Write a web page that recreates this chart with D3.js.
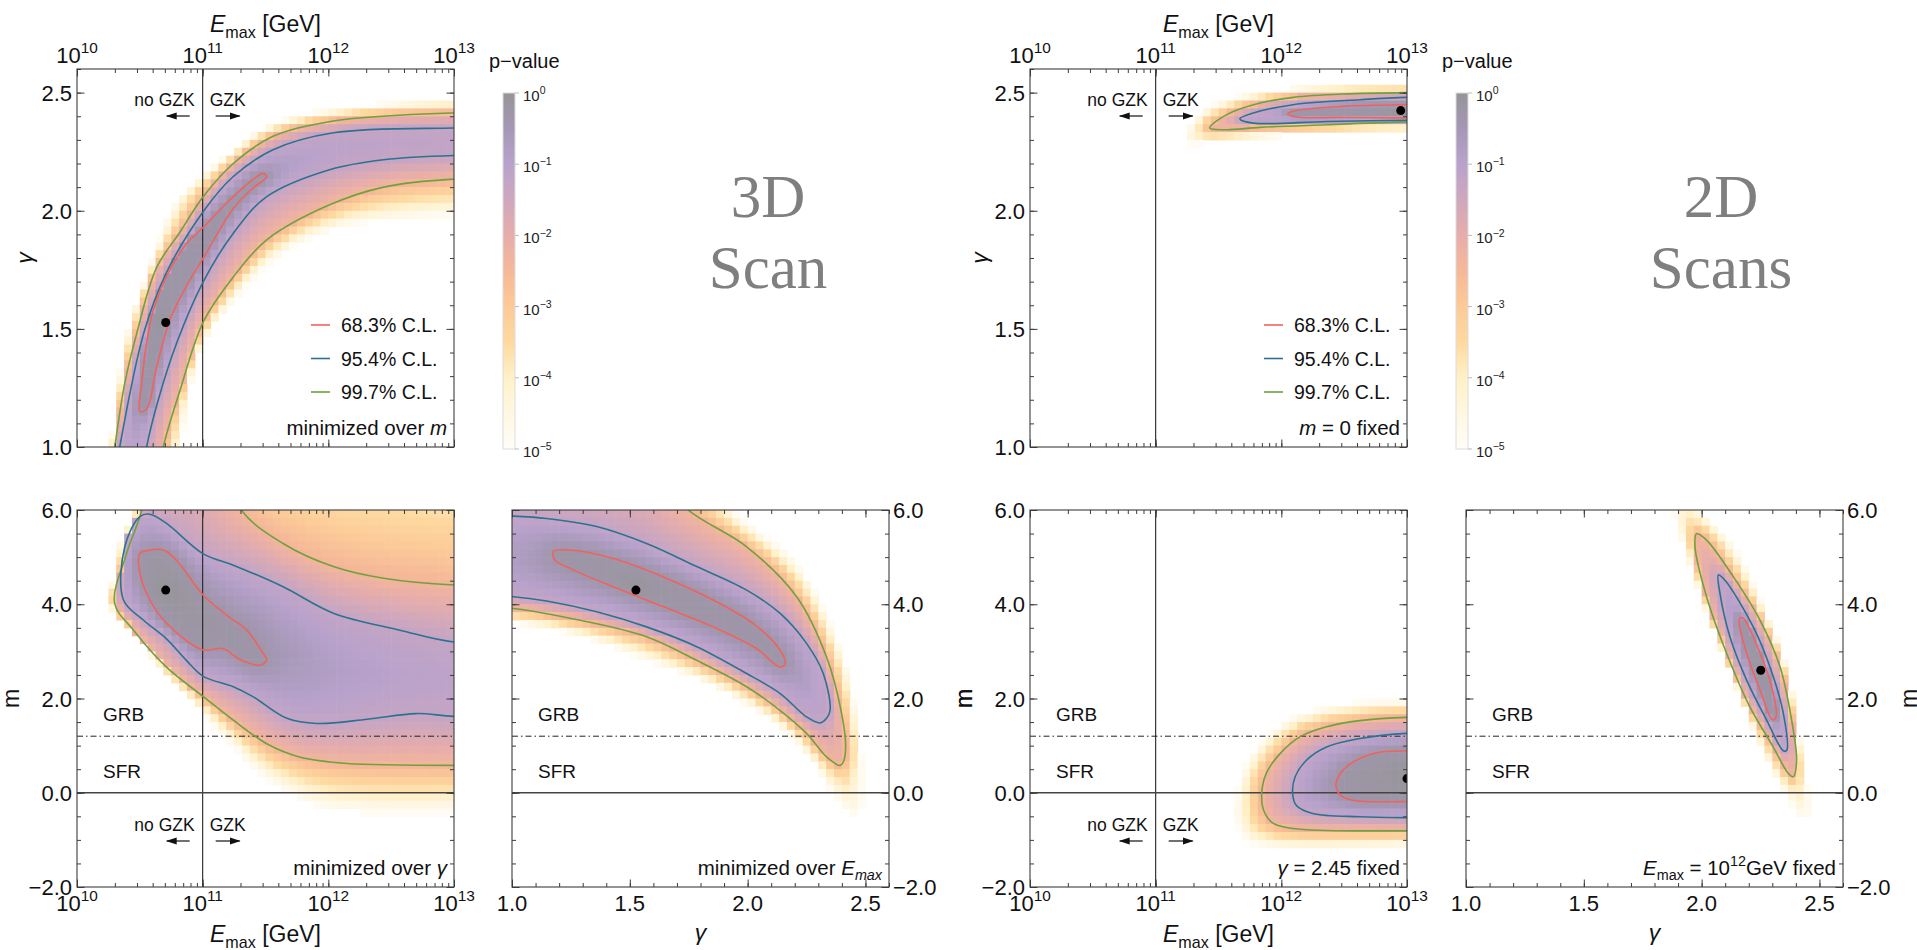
<!DOCTYPE html>
<html>
<head>
<meta charset="utf-8">
<script src="https://cdn.jsdelivr.net/npm/d3@7"></script>
<style>
  body { margin: 0; background: #fff; }
  svg { display: block; font-family: "Liberation Sans", Arial, Helvetica, sans-serif; }
</style>
</head>
<body>
<svg id="chart" width="1917" height="950"></svg>
<script>
// ---- axis ranges -------------------------------------------------------
const eDomain = [1e10, 1e13];          // Emax [GeV]
const gDomain = [1.0, 2.6];            // spectral index gamma
const mDomain = [-2.0, 6.0];           // source evolution m

const eMajor = [1e10, 1e11, 1e12, 1e13];
const gMajor = [1.0, 1.5, 2.0, 2.5];
const mMajor = [-2, 0, 2, 4, 6];

// reference lines
const gzkE = 1e11;
const mGRB = 1.2;
const mSFR = 0.0;

// confidence levels
const clNames = ['68.3% C.L.', '95.4% C.L.', '99.7% C.L.'];
const clColors = ['#f0625d', '#2c7192', '#72a03b'];
// log10 p-value of the map along each contour (68.3, 95.4, 99.7) and at the outer fade
const shadeAtContour = [-0.3, -1.25, -2.4];
const shadeEdge = -5;

// p-value colour bar, log10(p) from 0 down to -5 in steps of 0.5
const pvTicks = [0, -1, -2, -3, -4, -5];
const pvColors = ['#959597', '#a597b5', '#b8a2cc', '#cfa7bd', '#e6adab', '#f5b898',
                  '#fcca98', '#fed9a0', '#fff0c8', '#fff7e2', '#fffdf8'];

// ---- 3D scan: gamma vs log10(Emax), minimized over m ----------------------
const scan3_gE_best = [10.706, 1.527];
const scan3_gE_c1 = [[10.50,1.15],[10.515,1.27],[10.554,1.44],[10.607,1.58],[10.71,1.72],[10.87,1.86],
  [11.005,1.93],[11.244,2.06],[11.48,2.157],[11.51,2.145],[11.40,2.096],[11.244,2.01],[11.005,1.80],
  [10.87,1.68],[10.74,1.54],[10.634,1.34],[10.554,1.16]];
const scan3_gE_c2 = [[10.28,0.8],[10.34,1.0],[10.53,1.48],[10.71,1.736],[11.005,1.997],[11.244,2.145],
  [11.56,2.258],[12.04,2.33],[13.0,2.35],[13.6,2.35],[13.6,2.234],[13.0,2.234],[12.44,2.216],[12.01,2.174],
  [11.51,2.06],[11.244,1.905],[11.005,1.70],[10.793,1.44],[10.647,1.2],[10.554,1.0],[10.50,0.8]];
const scan3_gE_c3 = [[10.24,0.8],[10.30,1.0],[10.38,1.27],[10.475,1.48],[10.634,1.76],[10.82,1.91],
  [11.005,2.06],[11.244,2.20],[11.56,2.315],[12.04,2.38],[13.0,2.414],[13.6,2.414],[13.6,2.134],
  [13.0,2.134],[12.44,2.10],[12.01,2.025],[11.51,1.877],[11.244,1.72],[11.005,1.53],[10.82,1.24],
  [10.687,1.0],[10.63,0.8]];
const scan3_gE_edge = [[10.20,0.8],[10.263,1.0],[10.395,1.48],[10.58,1.764],[10.793,2.047],[11.11,2.20],
  [11.51,2.357],[12.04,2.43],[13.0,2.47],[13.6,2.47],[13.6,1.976],[13.0,1.976],[12.57,1.96],[12.04,1.92],
  [11.64,1.82],[11.244,1.62],[10.98,1.41],[10.82,1.0],[10.76,0.8]];

// ---- 3D scan: m vs log10(Emax), minimized over gamma ------------------------
const scan3_mE_best = [10.706, 4.30];
const scan3_mE_c1 = [[10.50,5.08],[10.58,5.15],[10.69,5.15],[10.79,4.94],[11.005,4.19],[11.19,3.77],
  [11.35,3.45],[11.48,2.96],[11.51,2.82],[11.46,2.71],[11.30,2.82],[11.16,3.06],[11.005,3.03],
  [10.77,3.45],[10.61,3.95],[10.50,4.66]];
const scan3_mE_c2 = [[10.37,4.09],[10.38,5.22],[10.50,5.86],[10.58,5.91],[10.71,5.72],[11.005,5.07],
  [11.244,4.83],[11.64,4.37],[12.04,3.81],[12.57,3.45],[13.0,3.20],[13.6,3.20],[13.6,1.62],[13.0,1.62],
  [12.70,1.68],[12.31,1.56],[11.91,1.47],[11.67,1.58],[11.40,2.04],[11.244,2.25],[11.005,2.47],
  [10.87,2.81],[10.71,3.27],[10.53,3.66]];
const scan3_mE_c3 = [[10.56,7.0],[10.515,6.0],[10.395,5.08],[10.30,4.02],[10.45,3.45],[10.71,2.67],
  [11.005,2.04],[11.244,1.54],[11.51,1.04],[11.77,0.76],[12.15,0.62],[12.57,0.59],[13.0,0.58],
  [13.6,0.58],[13.6,4.41],[13.0,4.41],[12.44,4.55],[12.04,4.80],[11.64,5.29],[11.31,6.0],[11.2,7.0]];
const scan3_mE_edge = [[10.5,7.0],[10.45,6.0],[10.34,5.36],[10.29,4.58],[10.263,4.02],[10.45,3.38],
  [10.85,2.11],[11.244,0.97],[11.51,0.27],[11.91,-0.30],[12.31,-0.44],[13.0,-0.44],[13.6,-0.44],[13.6,7.0]];

// ---- 3D scan: m vs gamma, minimized over Emax -------------------------------
const scan3_mg_best = [1.526, 4.30];
const scan3_mg_c1 = [[1.175,5.12],[1.246,5.15],[1.43,4.97],[1.642,4.58],[1.854,4.09],[2.024,3.59],
  [2.137,3.03],[2.159,2.74],[2.137,2.67],[2.038,3.06],[1.854,3.52],[1.642,3.95],[1.43,4.37],
  [1.26,4.73],[1.182,4.94]];
const scan3_mg_c2 = [[0.7,5.9],[1.006,5.87],[1.147,5.82],[1.359,5.65],[1.571,5.29],[1.784,4.80],
  [1.996,4.30],[2.137,3.81],[2.25,3.17],[2.321,2.53],[2.35,1.75],[2.335,1.58],[2.307,1.48],[2.25,1.61],
  [2.137,2.11],[1.996,2.53],[1.784,3.10],[1.571,3.52],[1.359,3.84],[1.147,4.07],[1.006,4.16],[0.7,4.2]];
const scan3_mg_c3 = [[0.7,4.0],[1.006,3.91],[1.289,3.66],[1.571,3.31],[1.784,2.81],[1.996,2.25],
  [2.137,1.75],[2.25,1.26],[2.335,0.76],[2.392,0.58],[2.406,0.65],[2.416,0.97],[2.399,1.68],
  [2.335,2.88],[2.208,4.16],[1.996,5.22],[1.748,6.0],[1.65,6.6],[0.7,6.6]];
const scan3_mg_edge = [[0.7,3.65],[1.006,3.59],[1.289,3.31],[1.571,2.81],[1.854,2.25],[2.137,1.40],
  [2.279,0.62],[2.364,-0.09],[2.434,-0.48],[2.477,-0.44],[2.491,0.27],[2.463,1.68],[2.392,3.10],
  [2.208,4.87],[1.939,6.0],[1.85,6.8],[0.7,6.8]];

// ---- 2D scan: gamma vs log10(Emax), m = 0 ----------------------------------
const scan2_gE_best = [12.95, 2.424];
const scan2_gE_c1 = [[12.05,2.41],[12.12,2.424],[12.49,2.442],[13.0,2.449],[13.6,2.449],[13.6,2.393],
  [13.0,2.393],[12.49,2.395],[12.12,2.397]];
const scan2_gE_c2 = [[11.67,2.389],[11.777,2.414],[12.095,2.449],[12.625,2.47],[13.0,2.48],[13.6,2.48],
  [13.6,2.383],[13.0,2.383],[12.36,2.378],[11.777,2.371]];
const scan2_gE_c3 = [[11.43,2.35],[11.565,2.407],[11.83,2.456],[12.095,2.48],[12.49,2.494],[13.0,2.50],
  [13.6,2.50],[13.6,2.376],[13.0,2.376],[12.36,2.364],[11.83,2.353],[11.565,2.343]];
const scan2_gE_edge = [[11.23,2.315],[11.35,2.414],[11.565,2.47],[12.095,2.52],[13.0,2.534],[13.6,2.534],
  [13.6,2.336],[13.0,2.336],[12.095,2.322],[11.565,2.294],[11.23,2.287]];

// ---- 2D scan: m vs log10(Emax), gamma = 2.45 -------------------------------
const scan2_mE_best = [13.0, 0.30];
const scan2_mE_c1 = [[13.6,0.89],[13.0,0.89],[12.76,0.85],[12.57,0.65],[12.47,0.41],[12.434,0.16],
  [12.47,-0.05],[12.57,-0.16],[13.0,-0.19],[13.6,-0.19]];
const scan2_mE_c2 = [[13.6,1.26],[13.0,1.26],[12.625,1.15],[12.36,0.97],[12.2,0.69],[12.11,0.34],
  [12.09,-0.02],[12.12,-0.27],[12.25,-0.44],[12.625,-0.51],[13.0,-0.53],[13.6,-0.53]];
const scan2_mE_c3 = [[13.6,1.60],[13.0,1.60],[12.625,1.53],[12.36,1.40],[12.15,1.19],[11.99,0.83],
  [11.88,0.41],[11.843,-0.09],[11.87,-0.44],[11.936,-0.65],[12.095,-0.76],[12.36,-0.80],[13.0,-0.81],
  [13.6,-0.81]];
const scan2_mE_edge = [[13.6,1.96],[13.0,1.96],[12.625,1.93],[12.36,1.82],[12.095,1.61],[11.88,1.19],
  [11.72,0.62],[11.64,-0.09],[11.64,-0.65],[11.72,-1.01],[11.88,-1.15],[13.0,-1.15],[13.6,-1.15]];

// ---- 2D scan: m vs gamma, Emax = 1e12 GeV ----------------------------------
const scan2_mg_best = [2.251, 2.60];
const scan2_mg_c1 = [[2.163,3.71],[2.177,3.70],[2.248,2.96],[2.304,2.11],[2.316,1.61],[2.301,1.55],
  [2.248,2.18],[2.191,2.96],[2.16,3.59]];
const scan2_mg_c2 = [[2.071,4.62],[2.099,4.51],[2.219,3.52],[2.29,2.67],[2.347,1.68],[2.361,0.90],
  [2.347,0.89],[2.276,1.54],[2.191,2.39],[2.12,3.31],[2.078,4.23]];
const scan2_mg_c3 = [[1.979,5.50],[2.021,5.36],[2.135,4.58],[2.248,3.66],[2.333,2.67],[2.382,1.54],
  [2.403,0.69],[2.389,0.34],[2.368,0.41],[2.304,0.97],[2.205,1.82],[2.106,2.96],[2.021,4.16],[1.972,5.22]];
const scan2_mg_edge = [[1.80,6.6],[1.866,6.0],[1.922,5.22],[2.021,3.81],[2.135,2.39],[2.248,0.97],
  [2.361,-0.09],[2.417,-0.51],[2.46,-0.44],[2.432,0.62],[2.375,2.39],[2.276,3.81],[2.135,5.22],
  [2.0,6.0],[1.95,6.6]];

// ---- panel layout ---------------------------------------------------------
const panels = [
  { key: 'A', left: 77, top: 69, w: 377, h: 378, xKind: 'E', yKind: 'g',
    rings: [scan3_gE_edge, scan3_gE_c3, scan3_gE_c2, scan3_gE_c1], best: scan3_gE_best,
    xLab: 'top', yLab: 'left', yTitleX: -45, note: [['minimized over '], ['m', 'i']],
    legend: true, colorbar: true, gzk: 'top' },
  { key: 'B', left: 77, top: 510, w: 377, h: 377, xKind: 'E', yKind: 'm',
    rings: [scan3_mE_edge, scan3_mE_c3, scan3_mE_c2, scan3_mE_c1], best: scan3_mE_best,
    xLab: 'bottom', yLab: 'left', yTitleX: -58, note: [['minimized over '], ['γ', 'i']], gzk: 'bottom' },
  { key: 'C', left: 512, top: 510, w: 377, h: 377, xKind: 'g', yKind: 'm',
    rings: [scan3_mg_edge, scan3_mg_c3, scan3_mg_c2, scan3_mg_c1], best: scan3_mg_best,
    xLab: 'bottom', yLab: 'right', yTitleX: 460, note: [['minimized over '], ['E', 'i'], ['max', 'isub']] },
  { key: 'D', left: 1030, top: 69, w: 377, h: 378, xKind: 'E', yKind: 'g',
    rings: [scan2_gE_edge, scan2_gE_c3, scan2_gE_c2, scan2_gE_c1], best: scan2_gE_best,
    xLab: 'top', yLab: 'left', yTitleX: -43, note: [['m', 'i'], [' = 0 fixed']],
    legend: true, colorbar: true, gzk: 'top' },
  { key: 'E', left: 1030, top: 510, w: 377, h: 377, xKind: 'E', yKind: 'm',
    rings: [scan2_mE_edge, scan2_mE_c3, scan2_mE_c2, scan2_mE_c1], best: scan2_mE_best,
    xLab: 'bottom', yLab: 'left', yTitleX: -58, note: [['γ', 'i'], [' = 2.45 fixed']], gzk: 'bottom' },
  { key: 'F', left: 1466, top: 510, w: 377, h: 377, xKind: 'g', yKind: 'm',
    rings: [scan2_mg_edge, scan2_mg_c3, scan2_mg_c2, scan2_mg_c1], best: scan2_mg_best,
    xLab: 'bottom', yLab: 'right', yTitleX: 451,
    note: [['E', 'i'], ['max', 'sub'], [' = 10'], ['12', 'sup'], ['GeV fixed']] }
];

const svg = d3.select('#chart');
const defs = svg.append('defs');
const ink = '#3c3c3c';

const pvColor = d3.scaleLinear()
  .domain(d3.range(0, -5.01, -0.5))
  .range(pvColors)
  .interpolate(d3.interpolateRgb);

// ring order is edge, 99.7, 95.4, 68.3
const levels = [shadeEdge, ...shadeAtContour.slice().reverse()];

defs.append('marker').attr('id', 'arrowHead')
  .attr('markerUnits', 'userSpaceOnUse')
  .attr('markerWidth', 11).attr('markerHeight', 9)
  .attr('refX', 10).attr('refY', 4.5).attr('orient', 'auto')
  .append('path').attr('d', 'M0,1L11,4.5L0,8Z').attr('fill', '#111');

// text with italic / sub / superscript pieces
function rich(text, parts, size) {
  let shift = 0;
  parts.forEach(([s, st]) => {
    const target = (st === 'sub' || st === 'isub') ? size * 0.24 : st === 'sup' ? -size * 0.45 : 0;
    const ts = text.append('tspan').text(s).attr('dy', target - shift);
    shift = target;
    if (st === 'i' || st === 'isub') ts.style('font-style', 'italic');
    if (st === 'sub' || st === 'isub' || st === 'sup') ts.style('font-size', (size * 0.7) + 'px');
  });
  return text;
}

function sampleRing(node) {
  const L = node.getTotalLength();
  const n = Math.max(80, Math.ceil(L / 2));
  return d3.range(n).map(i => {
    const q = node.getPointAtLength(L * i / n);
    return [q.x, q.y];
  });
}

function ringDist(pt, ring) {
  let best = Infinity;
  for (const q of ring) {
    const dx = q[0] - pt[0], dy = q[1] - pt[1];
    const d = dx * dx + dy * dy;
    if (d < best) best = d;
  }
  return Math.sqrt(best);
}

// log10 p-value at a point, blended between the neighbouring contours
function pvAt(pt, samples, bestPx) {
  let k = -1;
  samples.forEach((s, i) => { if (d3.polygonContains(s, pt)) k = i; });
  if (k < 0) return null;
  const dOut = ringDist(pt, samples[k]);
  let dIn, lvIn;
  if (k < samples.length - 1) {
    dIn = ringDist(pt, samples[k + 1]);
    lvIn = levels[k + 1];
  } else {
    dIn = Math.hypot(pt[0] - bestPx[0], pt[1] - bestPx[1]);
    lvIn = 0;
  }
  const t = dOut / (dOut + dIn + 1e-9);
  return levels[k] + t * (lvIn - levels[k]);
}

function xLabel(sel, v, kind, size) {
  if (kind === 'E') rich(sel, [['10'], [String(Math.round(Math.log10(v))), 'sup']], size);
  else sel.text(d3.format('.1f')(v));
}

const nCells = 48;

panels.forEach(p => {
  const g = svg.append('g').attr('transform', `translate(${p.left},${p.top})`);
  const x = p.xKind === 'E'
    ? d3.scaleLog().domain(eDomain).range([0, p.w])
    : d3.scaleLinear().domain(gDomain).range([0, p.w]);
  const y = d3.scaleLinear().domain(p.yKind === 'g' ? gDomain : mDomain).range([p.h, 0]);
  const px = d => p.xKind === 'E' ? x(10 ** d[0]) : x(d[0]);
  const py = d => y(d[1]);
  const ringLine = d3.line().x(px).y(py).curve(d3.curveCatmullRomClosed.alpha(0.5));

  g.append('clipPath').attr('id', 'clip' + p.key)
    .append('rect').attr('width', p.w).attr('height', p.h);
  const inner = g.append('g').attr('clip-path', `url(#clip${p.key})`);
  const heat = inner.append('g');
  const refs = inner.append('g');
  const lines = inner.append('g');

  const paths = p.rings.map((r, i) => lines.append('path')
    .attr('d', ringLine(r))
    .attr('fill', 'none')
    .attr('stroke', i === 0 ? 'none' : clColors[3 - i])
    .attr('stroke-width', 1.6));

  // p-value map on a coarse grid
  const samples = paths.map(pa => sampleRing(pa.node()));
  const bestPx = [px(p.best), py(p.best)];
  const cw = p.w / nCells, ch = p.h / nCells;
  const cells = [];
  for (let i = 0; i < nCells; i++) {
    for (let j = 0; j < nCells; j++) {
      const v = pvAt([(i + 0.5) * cw, (j + 0.5) * ch], samples, bestPx);
      if (v !== null && v > -4.95) cells.push({ i, j, v });
    }
  }
  heat.selectAll('rect').data(cells).join('rect')
    .attr('x', d => d.i * cw).attr('y', d => d.j * ch)
    .attr('width', cw + 0.6).attr('height', ch + 0.6)
    .attr('fill', d => pvColor(d.v));

  // GZK line
  if (p.xKind === 'E') {
    refs.append('line').attr('x1', x(gzkE)).attr('x2', x(gzkE)).attr('y1', 0).attr('y2', p.h)
      .attr('stroke', '#222').attr('stroke-width', 1.1);
  }
  // source evolution references
  if (p.yKind === 'm') {
    refs.append('line').attr('x1', 0).attr('x2', p.w).attr('y1', y(mGRB)).attr('y2', y(mGRB))
      .attr('stroke', '#222').attr('stroke-width', 1).attr('stroke-dasharray', '6,3,1.5,3');
    refs.append('line').attr('x1', 0).attr('x2', p.w).attr('y1', y(mSFR)).attr('y2', y(mSFR))
      .attr('stroke', '#444').attr('stroke-width', 1.3);
    g.append('text').attr('x', 26).attr('y', y(mGRB) - 15).attr('font-size', 19).attr('fill', '#111').text('GRB');
    g.append('text').attr('x', 26).attr('y', y(mSFR) - 15).attr('font-size', 19).attr('fill', '#111').text('SFR');
  }

  lines.append('circle').attr('cx', bestPx[0]).attr('cy', bestPx[1]).attr('r', 4.5).attr('fill', '#000');

  // frame and inward ticks on all sides
  g.append('rect').attr('width', p.w).attr('height', p.h)
    .attr('fill', 'none').attr('stroke', ink).attr('stroke-width', 1.1);
  const xMajor = p.xKind === 'E' ? eMajor : gMajor;
  const xMinor = p.xKind === 'E' ? x.ticks() : d3.range(10, 27).map(v => v / 10);
  const yMajor = p.yKind === 'g' ? gMajor : mMajor;
  const yMinor = p.yKind === 'g' ? d3.range(10, 27).map(v => v / 10) : d3.range(-4, 13).map(v => v / 2);
  [['b', d3.axisBottom, `translate(0,${p.h})`, x, xMinor, xMajor],
   ['t', d3.axisTop, 'translate(0,0)', x, xMinor, xMajor],
   ['l', d3.axisLeft, 'translate(0,0)', y, yMinor, yMajor],
   ['r', d3.axisRight, `translate(${p.w},0)`, y, yMinor, yMajor]].forEach(([, ax, tr, sc, minor, major]) => {
    [[minor, 4], [major, 7.5]].forEach(([vals, len]) => {
      g.append('g').attr('transform', tr)
        .call(ax(sc).tickValues(vals).tickSize(-len).tickFormat(''))
        .call(a => a.select('.domain').remove())
        .selectAll('line').attr('stroke', ink).attr('stroke-width', 1);
    });
  });

  // tick labels
  const tickSize = 22;
  g.append('g').selectAll('text').data(xMajor).join('text')
    .attr('x', d => x(d))
    .attr('y', p.xLab === 'top' ? -6 : p.h + 24)
    .attr('text-anchor', 'middle').attr('font-size', tickSize).attr('fill', '#111')
    .each(function (d) { xLabel(d3.select(this), d, p.xKind, tickSize); });
  g.append('g').selectAll('text').data(yMajor).join('text')
    .attr('x', p.yLab === 'left' ? -5 : p.w + 4)
    .attr('y', d => y(d) + 8)
    .attr('text-anchor', p.yLab === 'left' ? 'end' : 'start')
    .attr('font-size', tickSize).attr('fill', '#111')
    .text(d => d3.format('.1f')(d));

  // axis titles
  const cx = p.w / 2;
  if (p.xKind === 'E') {
    rich(g.append('text').attr('x', cx).attr('y', p.xLab === 'top' ? -37 : p.h + 55)
      .attr('text-anchor', 'middle').attr('font-size', 23).attr('fill', '#111'),
      [['E', 'i'], ['max', 'sub'], [' [GeV]']], 23);
  } else {
    g.append('text').attr('x', cx).attr('y', p.h + 53)
      .attr('text-anchor', 'middle').attr('font-size', 23).attr('font-style', 'italic')
      .attr('fill', '#111').text('γ');
  }
  g.append('text')
    .attr('transform', `translate(${p.yTitleX},${p.h / 2}) rotate(-90)`)
    .attr('text-anchor', 'middle').attr('font-size', 23).attr('fill', '#111')
    .attr('font-style', p.yKind === 'g' ? 'italic' : 'normal')
    .text(p.yKind === 'g' ? 'γ' : 'm');

  // corner note
  rich(g.append('text').attr('x', p.w - 7).attr('y', p.h - 12)
    .attr('text-anchor', 'end').attr('font-size', 20.5).attr('fill', '#111'), p.note, 20.5);

  // GZK markers
  if (p.gzk) {
    const ty = p.gzk === 'top' ? 37 : p.h - 56;
    const ay = ty + 10;
    const x0 = x(gzkE);
    g.append('text').attr('x', x0 - 8).attr('y', ty).attr('text-anchor', 'end')
      .attr('font-size', 17.5).attr('fill', '#111').text('no GZK');
    g.append('text').attr('x', x0 + 7).attr('y', ty)
      .attr('font-size', 17.5).attr('fill', '#111').text('GZK');
    g.append('line').attr('x1', x0 - 13).attr('x2', x0 - 36).attr('y1', ay).attr('y2', ay)
      .attr('stroke', '#111').attr('stroke-width', 1.2).attr('marker-end', 'url(#arrowHead)');
    g.append('line').attr('x1', x0 + 13).attr('x2', x0 + 37).attr('y1', ay).attr('y2', ay)
      .attr('stroke', '#111').attr('stroke-width', 1.2).attr('marker-end', 'url(#arrowHead)');
  }

  // legend
  if (p.legend) {
    const lg = g.append('g').selectAll('g').data(clNames).join('g')
      .attr('transform', (d, i) => `translate(234,${256 + i * 33.5})`);
    lg.append('line').attr('x1', 0).attr('x2', 19)
      .attr('stroke', (d, i) => clColors[i]).attr('stroke-width', 1.6);
    lg.append('text').attr('x', 30).attr('y', 7).attr('font-size', 19.5).attr('fill', '#111').text(d => d);
  }

  // colour bar
  if (p.colorbar) {
    const gid = 'pvGrad' + p.key;
    const grad = defs.append('linearGradient').attr('id', gid)
      .attr('x1', 0).attr('x2', 0).attr('y1', 0).attr('y2', 1);
    grad.selectAll('stop').data(d3.range(0, 1.0001, 0.05)).join('stop')
      .attr('offset', d => d).attr('stop-color', d => pvColor(-5 * d));
    const cb = g.append('g').attr('transform', `translate(${p.w + 49},24)`);
    const cbH = 356;
    const cy = d3.scaleLinear().domain([0, -5]).range([0, cbH]);
    cb.append('rect').attr('width', 12).attr('height', cbH)
      .attr('fill', `url(#${gid})`).attr('stroke', '#dcdcdc').attr('stroke-width', 1);
    cb.selectAll('line.tk').data(pvTicks).join('line').attr('class', 'tk')
      .attr('x1', 12).attr('x2', 16).attr('y1', d => cy(d)).attr('y2', d => cy(d))
      .attr('stroke', '#bbb');
    cb.selectAll('text.lb').data(pvTicks).join('text').attr('class', 'lb')
      .attr('x', 20).attr('y', d => cy(d) + 8).attr('font-size', 15).attr('fill', '#222')
      .each(function (d) { rich(d3.select(this), [['10'], [d === 0 ? '0' : '−' + (-d), 'sup']], 15); });
    cb.append('text').attr('x', -14).attr('y', -25).attr('font-size', 20).attr('fill', '#111').text('p−value');
  }
});

// scan titles
[['3D', 'Scan', 768], ['2D', 'Scans', 1721]].forEach(([a, b, cx]) => {
  const t = svg.append('g').attr('font-family', '"Liberation Serif", "Times New Roman", serif')
    .attr('font-size', 61).attr('fill', '#7f7f7f').attr('text-anchor', 'middle');
  t.append('text').attr('x', cx).attr('y', 217).text(a);
  t.append('text').attr('x', cx).attr('y', 288).text(b);
});
</script>
</body>
</html>
